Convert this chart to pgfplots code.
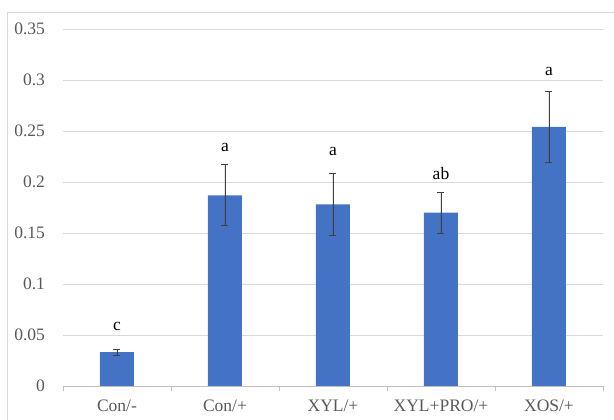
\documentclass[border=0pt]{standalone}
\usepackage{pgfplots}
\pgfplotsset{compat=1.18}
\usepackage{fontspec}
\setmainfont{Liberation Serif}
\definecolor{barblue}{HTML}{4472C4}
\definecolor{gridgray}{HTML}{D9D9D9}
\definecolor{axisgray}{HTML}{BFBFBF}
\definecolor{txtgray}{HTML}{595959}
\definecolor{errgray}{HTML}{404040}
\begin{document}
\fontsize{17.5}{21}\selectfont
\begin{tikzpicture}
\useasboundingbox (0,0) rectangle (614pt,420pt);
\draw[gridgray, line width=0.8pt] (7pt,-20pt) -- (7pt,408pt) -- (700pt,408pt);
\begin{axis}[
  at={(63pt,34pt)}, anchor=south west,
  scale only axis, width=540pt, height=357pt,
  xmin=-0.5, xmax=4.5, ymin=0, ymax=0.35,
  ybar, bar width=34pt,
  axis x line*=bottom, axis y line*=left,
  x axis line style={axisgray, line width=0.8pt},
  y axis line style={draw=none},
  ytick={0,0.05,0.1,0.15,0.2,0.25,0.3,0.35},
  yticklabels={0,0.05,0.1,0.15,0.2,0.25,0.3,0.35},
  ytick style={draw=none},
  ymajorgrids, major grid style={gridgray, line width=0.8pt},
  xtick={0,1,2,3,4},
  xticklabels={Con/-,Con/+,XYL/+,XYL+PRO/+,XOS/+},
  major x tick style={draw=none},
  minor xtick={-0.5,0.5,1.5,2.5,3.5,4.5},
  minor x tick style={axisgray, line width=0.8pt},
  tick align=outside, minor tick length=5pt, major tick length=0pt,
  x tick label style={text=txtgray, anchor=base, yshift=-26pt},
  y tick label style={text=txtgray, anchor=east},
  yticklabel shift=12pt,
  tick label style={font=\fontsize{17.5}{21}\selectfont},
]
\addplot[fill=barblue, draw=none,
  error bars/.cd, y dir=both, y explicit,
  error bar style={errgray, line width=0.8pt},
  error mark options={errgray, rotate=90, mark size=3.5pt, line width=0.8pt}]
  table[x=x, y=y, y error=e] {
x y e
0 0.0333 0.003
1 0.187 0.030
2 0.178 0.030
3 0.170 0.020
4 0.254 0.035
};
\node at (axis cs:0,0.058) {c};
\node at (axis cs:1,0.2336) {a};
\node at (axis cs:2,0.2297) {a};
\node at (axis cs:3,0.2085) {ab};
\node at (axis cs:4,0.3081) {a};
\end{axis}
\end{tikzpicture}
\end{document}
